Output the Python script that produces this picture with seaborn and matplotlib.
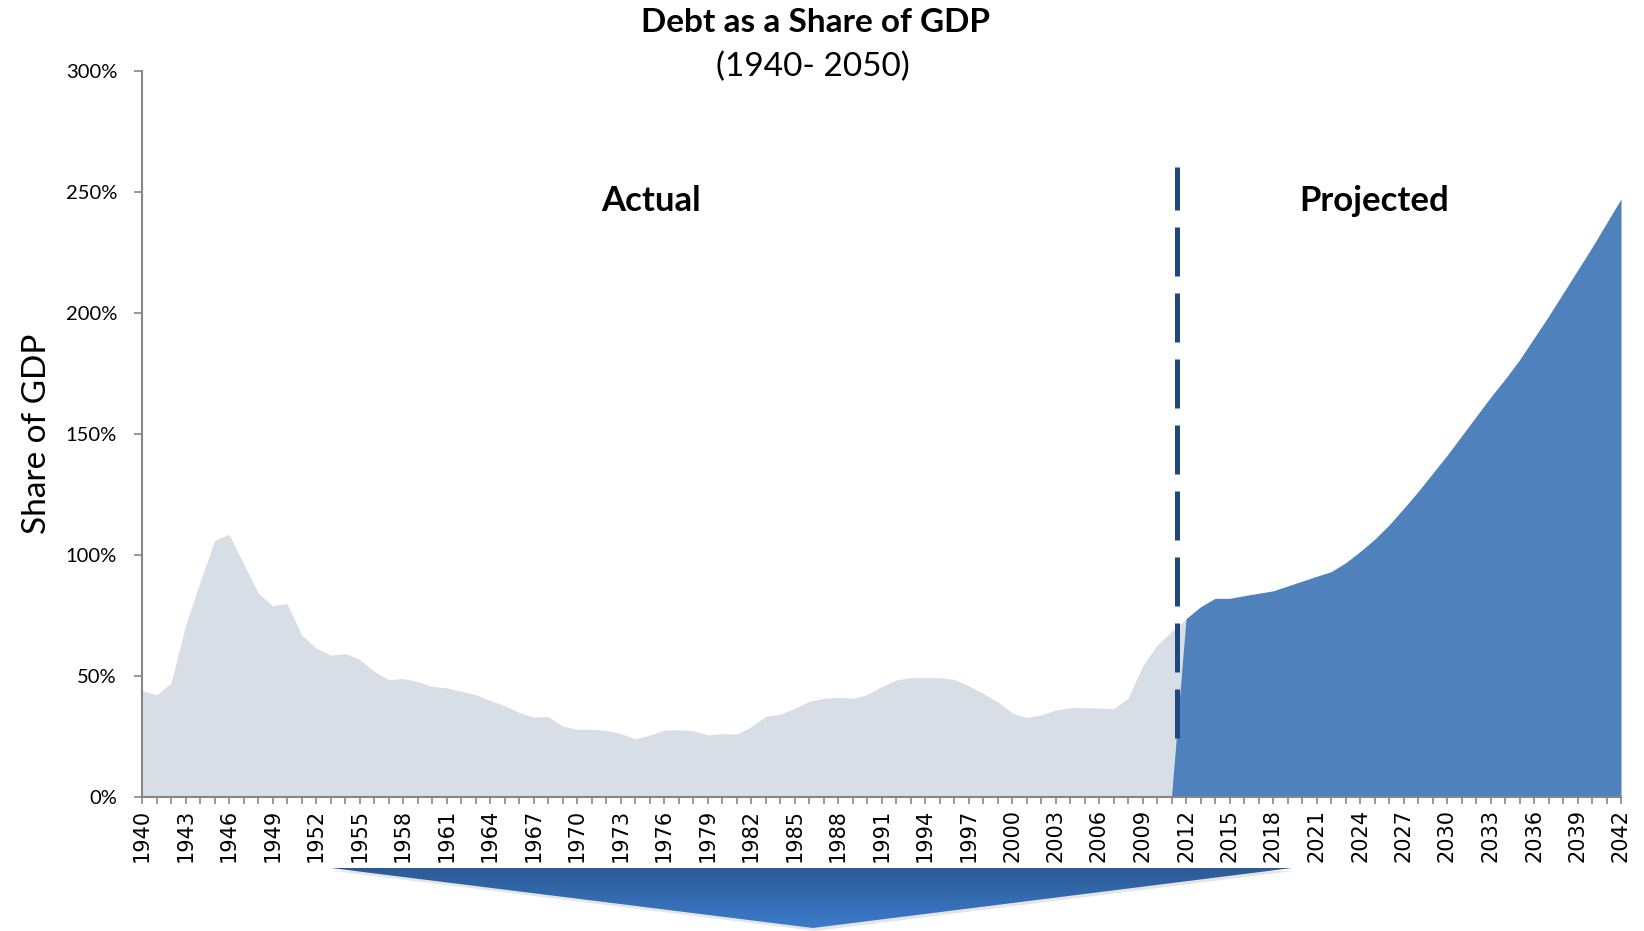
import numpy as np
import matplotlib
matplotlib.use("Agg")
import matplotlib.pyplot as plt
import seaborn as sns
import pandas as pd
from matplotlib.patches import Polygon
from matplotlib.ticker import FuncFormatter, MultipleLocator
from matplotlib.colors import LinearSegmentedColormap

# ---------------- data ----------------
actual_years = list(range(1940, 2013))
actual_values = [43.8, 42.0, 46.8, 70.7, 88.6, 105.8, 108.4, 96.2, 84.2, 78.8,
                 79.8, 66.8, 61.4, 58.4, 59.1, 56.7, 51.8, 48.3, 48.8, 47.5,
                 45.5, 44.9, 43.5, 42.1, 39.7, 37.6, 34.7, 32.8, 33.1, 29.1,
                 27.8, 27.8, 27.3, 26.1, 23.8, 25.3, 27.4, 27.6, 27.2, 25.5,
                 26.0, 25.8, 28.8, 33.1, 34.0, 36.4, 39.3, 40.6, 41.0, 40.6,
                 42.1, 45.4, 48.1, 49.2, 49.2, 49.1, 48.4, 45.8, 42.6, 39.2,
                 34.6, 32.6, 33.7, 35.7, 36.7, 36.7, 36.6, 36.3, 40.6, 53.9,
                 62.6, 68.1, 73.2]
projected_years = list(range(2011, 2043))
projected_values = [0.0, 73.5, 78.4, 81.9, 81.9, 83.0, 84.0, 85.0, 87.0, 89.0,
                    91.0, 92.9, 96.6, 101.2, 106.3, 112.2, 119.0, 126.0, 133.5, 141.0,
                    149.0, 157.0, 165.0, 172.5, 180.5, 189.5, 198.5, 208.0, 217.5, 227.0,
                    237.0, 247.0]
divider_year = 2011.4
divider_range = [24, 260]
title = "Debt as a Share of GDP"
subtitle = "(1940- 2050)"
label_actual = "Actual"
label_projected = "Projected"
y_label = "Share of GDP"
x_tick_years = list(range(1940, 2043, 3))

df_a = pd.DataFrame({"year": actual_years, "value": actual_values})
df_p = pd.DataFrame({"year": projected_years, "value": projected_values})

# ---------------- style ----------------
sns.set_theme(style="white")
plt.rcParams['font.family'] = ['Lato', 'DejaVu Sans']
plt.rcParams['text.color'] = 'black'
plt.rcParams['axes.labelcolor'] = 'black'

W, H = 1644, 931
fig = plt.figure(figsize=(W / 100, H / 100), dpi=100)
ax = fig.add_axes([142 / W, 1 - 796.5 / H, (1621 - 142) / W, (796.5 - 70.7) / H])

gray = "#D7DEE5"
blue = "#4F81BD"
axis_col = "#868686"

sns.lineplot(data=df_a, x="year", y="value", ax=ax, color=gray, linewidth=0)
sns.lineplot(data=df_p, x="year", y="value", ax=ax, color=blue, linewidth=0)
ax.fill_between(df_a["year"], 0, df_a["value"], color=gray, linewidth=0, zorder=1)
ax.fill_between(df_p["year"], 0, df_p["value"], color=blue, linewidth=0, zorder=2)

ax.plot([divider_year, divider_year], divider_range, color="#1F497D", linewidth=3.6,
        linestyle=(0, (9.8, 3.4)), solid_capstyle="butt", dash_capstyle="butt", zorder=3)

ax.set_xlim(1940, 2042)
ax.set_ylim(0, 300)
ax.yaxis.set_major_locator(MultipleLocator(50))
ax.yaxis.set_major_formatter(FuncFormatter(lambda v, p: f"{int(v)}%"))
ax.set_xticks(list(range(1940, 2043)))
ax.set_xticklabels([str(y) if y in x_tick_years else "" for y in range(1940, 2043)],
                   rotation=90, fontsize=15, family="DejaVu Sans")
ax.tick_params(axis="x", direction="out", length=5, width=1.2, color=axis_col,
               labelcolor="black", pad=4, bottom=True)
ax.tick_params(axis="y", direction="out", length=6, width=1.2, color=axis_col,
               labelcolor="black", pad=12, labelsize=14.5, left=True)
ax.set_xlabel("")
ax.set_ylabel(y_label, fontsize=24, labelpad=10, color="black")
for s in ["top", "right"]:
    ax.spines[s].set_visible(False)
for s in ["left", "bottom"]:
    ax.spines[s].set_color(axis_col)
    ax.spines[s].set_linewidth(1.5)
ax.grid(False)

ax.text(1975.1, 246, label_actual, ha="center", va="center", fontsize=25,
        fontweight="bold", color="black")
ax.text(2025.0, 246, label_projected, ha="center", va="center", fontsize=25,
        fontweight="bold", color="black")

fig.text(815 / W, 1 - 23 / H, title, ha="center", va="center", fontsize=24,
         fontweight="bold", color="black")
fig.text(813 / W, 1 - 67 / H, subtitle, ha="center", va="center", fontsize=24, color="black")

# ---------------- chevron arrow ----------------
pts = [(331, 868), (1292, 868), (813, 928)]
shadow = Polygon([((x + 2) / W, 1 - (y + 3) / H) for x, y in pts], closed=True,
                 transform=fig.transFigure, facecolor="#000000", alpha=0.10, edgecolor="none")
fig.add_artist(shadow)
gax = fig.add_axes([0, 0, 1, 1], zorder=5)
gax.set_xlim(0, W)
gax.set_ylim(H, 0)
gax.axis("off")
grad = np.linspace(0, 1, 256).reshape(-1, 1)
cmap = LinearSegmentedColormap.from_list("g", ["#2C5A96", "#3C7CCB"])
im = gax.imshow(grad, cmap=cmap, extent=(331, 1292, 928, 868), aspect="auto")
poly = Polygon(pts, closed=True, transform=gax.transData, facecolor="none", edgecolor="none")
gax.add_patch(poly)
im.set_clip_path(poly)
gax.set_xlim(0, W)
gax.set_ylim(H, 0)

fig.savefig("out.png", dpi=100)
